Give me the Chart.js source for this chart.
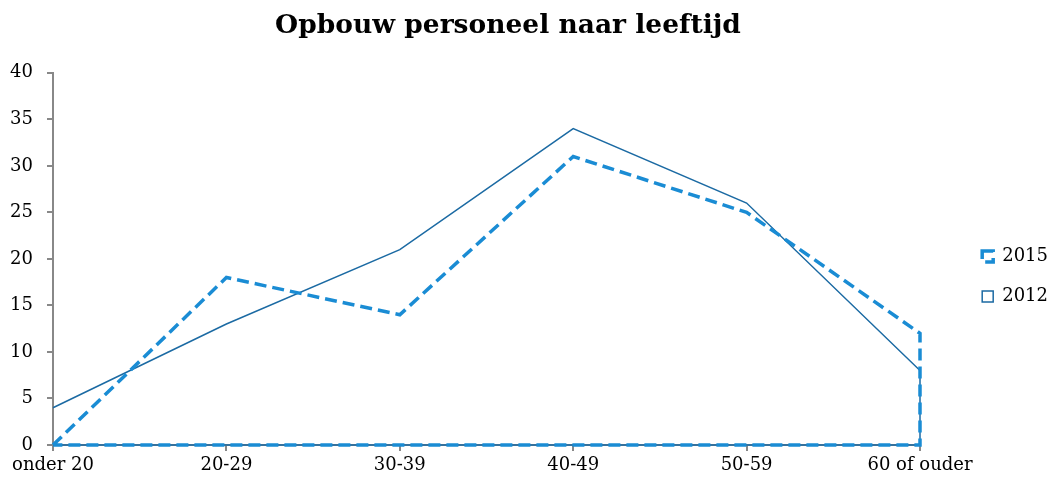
<!DOCTYPE html>
<html>
<head>
<meta charset="utf-8">
<script src="https://cdn.jsdelivr.net/npm/chart.js@4/dist/chart.umd.min.js"></script>
<style>
    body { margin: 0; background: #ffffff; }
    #wrap { width: 1054px; height: 483px; }
</style>
</head>
<body>
<div id="wrap"><canvas id="ageChart"></canvas></div>
<script>
// categories and values
const categories = ["onder 20", "20-29", "30-39", "40-49", "50-59", "60 of ouder"];
const values2015 = [0, 18, 14, 31, 25, 12];
const values2012 = [4, 13, 21, 34, 26, 8];
const yTicks = [0, 5, 10, 15, 20, 25, 30, 35, 40];

// area-chart outline: the values, then down at the last category and back along 0
function outline(values) {
    const pts = values.map((v, i) => ({ x: i, y: v }));
    pts.push({ x: values.length - 1, y: 0 });
    pts.push({ x: 0, y: 0 });
    return pts;
}

const grey = "#888888";
const serif = "'DejaVu Serif', serif";

// legend sits at the right edge of the canvas, title a bit left of centre (like excel)
const nudgeBoxes = {
    id: "nudgeBoxes",
    afterLayout(chart) {
        const lg = chart.legend;
        const shift = chart.width - lg.right + 4;
        lg.left += shift;
        lg.right += shift;
        chart.titleBlock.right -= 38;
    }
};

const ctx = document.getElementById("ageChart").getContext("2d");

new Chart(ctx, {
    type: "line",
    data: {
        datasets: [{
            label: "2015",
            data: outline(values2015),
            borderColor: "#1a8cd4",
            backgroundColor: "rgba(0,0,0,0)",
            borderWidth: 3.5,
            borderDash: [12, 6],
            pointRadius: 0,
            tension: 0,
            clip: false,
            order: 0
        }, {
            label: "2012",
            data: outline(values2012),
            borderColor: "#1b6aa3",
            backgroundColor: "rgba(0,0,0,0)",
            borderWidth: 1.5,
            pointRadius: 0,
            tension: 0,
            clip: false,
            order: 1
        }]
    },
    plugins: [nudgeBoxes],
    options: {
        responsive: true,
        maintainAspectRatio: false,
        animation: false,
        layout: { padding: 0 },
        plugins: {
            title: {
                display: true,
                text: "Opbouw personeel naar leeftijd",
                color: "#000000",
                font: { family: serif, size: 26.5, weight: "bold" },
                padding: { top: 10, bottom: 31 }
            },
            legend: {
                position: "right",
                title: { display: true, text: "", font: { size: 14 }, padding: { top: 0, bottom: 53 } },
                labels: {
                    color: "#000000",
                    font: { family: serif, size: 18 },
                    boxWidth: 11,
                    boxHeight: 11,
                    padding: 22
                }
            },
            tooltip: { enabled: false }
        },
        scales: {
            x: {
                type: "linear",
                min: 0,
                max: categories.length - 1,
                grid: { display: true, drawOnChartArea: false, color: grey, lineWidth: 2, tickLength: 6 },
                border: { color: grey, width: 2 },
                afterFit: function (scale) {
                    scale.height = 38;
                    scale.paddingRight = 134;
                },
                ticks: {
                    stepSize: 1,
                    color: "#000000",
                    font: { family: serif, size: 18 },
                    padding: 4,
                    maxRotation: 0,
                    callback: function (value) { return categories[value]; }
                }
            },
            y: {
                min: yTicks[0],
                max: yTicks[yTicks.length - 1],
                grid: { display: true, drawOnChartArea: false, color: grey, lineWidth: 2, tickLength: 6 },
                border: { color: grey, width: 2 },
                afterBuildTicks: function (axis) { axis.ticks = yTicks.map(v => ({ value: v })); },
                afterFit: function (scale) { scale.width = 53; },
                ticks: {
                    color: "#000000",
                    font: { family: serif, size: 18 },
                    padding: 14
                }
            }
        }
    }
});
</script>
</body>
</html>
